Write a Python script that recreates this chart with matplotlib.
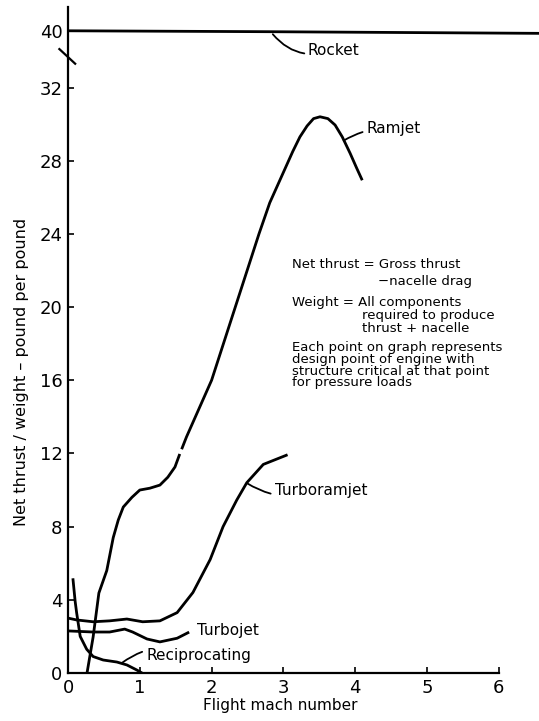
import matplotlib.pyplot as plt
import numpy as np

# values (flight mach number vs thrust/weight)
rocket_mach = [0.0, 2.8, 6.56]
rocket_tw = [40.0, 39.95, 39.86]

ramjet_mach_low = [0.265, 0.35, 0.43, 0.54, 0.63, 0.70, 0.77, 0.89, 1.0, 1.14, 1.28, 1.39, 1.49, 1.55]
ramjet_tw_low = [0.0, 1.97, 4.37, 5.6, 7.4, 8.36, 9.07, 9.6, 10.0, 10.1, 10.27, 10.7, 11.26, 11.9]
ramjet_mach_high = [1.59, 1.65, 2.0, 2.33, 2.66, 2.81, 2.97, 3.13, 3.23, 3.33, 3.42, 3.51, 3.62,
                    3.72, 3.82, 3.93, 4.02, 4.09]
ramjet_tw_high = [12.3, 12.9, 16.0, 20.0, 24.0, 25.7, 27.1, 28.5, 29.3, 29.9, 30.3, 30.4, 30.3,
                  29.95, 29.3, 28.4, 27.6, 27.0]

turboramjet_mach = [0.0, 0.12, 0.35, 0.58, 0.82, 1.04, 1.28, 1.52, 1.74, 1.98, 2.16, 2.35, 2.49, 2.72, 3.04]
turboramjet_tw = [3.0, 2.9, 2.8, 2.85, 2.95, 2.8, 2.85, 3.3, 4.4, 6.2, 8.0, 9.45, 10.4, 11.4, 11.9]

turbojet_mach = [0.0, 0.35, 0.58, 0.79, 0.9, 1.1, 1.28, 1.52, 1.67]
turbojet_tw = [2.3, 2.24, 2.24, 2.4, 2.24, 1.86, 1.7, 1.9, 2.2]

recip_mach = [0.07, 0.1, 0.12, 0.17, 0.26, 0.35, 0.49, 0.68, 0.82, 0.96, 1.03]
recip_tw = [5.1, 3.9, 3.3, 2.0, 1.3, 0.9, 0.71, 0.6, 0.44, 0.16, 0.0]

y_ticks = [0, 4, 8, 12, 16, 20, 24, 28, 32, 40]
x_ticks = [0, 1, 2, 3, 4, 5, 6]

# upper part of the y axis is broken: 40 sits where 35.1 would be
break_shift = 4.9


def disp(v):
    v = np.asarray(v, dtype=float)
    return np.where(v > 34, v - break_shift, v)


plt.rcParams['font.family'] = 'DejaVu Sans'
fig = plt.figure(figsize=(5.39, 7.21), dpi=100)
ax = fig.add_axes([68 / 539, 48 / 721, 1 - 68 / 539, 666 / 721])

lw = 2.0
ax.plot(rocket_mach, disp(rocket_tw), color='black', lw=lw)
ax.plot(ramjet_mach_low, ramjet_tw_low, color='black', lw=lw)
ax.plot(ramjet_mach_high, ramjet_tw_high, color='black', lw=lw)
ax.plot(turboramjet_mach, turboramjet_tw, color='black', lw=lw)
ax.plot(turbojet_mach, turbojet_tw, color='black', lw=lw)
ax.plot(recip_mach, recip_tw, color='black', lw=lw)

ax.set_xlim(0, 6.56)
ax.set_ylim(0, 36.4)
for s in ['top', 'right']:
    ax.spines[s].set_visible(False)
ax.spines['left'].set_linewidth(1.6)
ax.spines['bottom'].set_linewidth(1.6)
ax.spines['bottom'].set_bounds(0, 6)

ax.set_yticks(disp(y_ticks))
ax.set_yticklabels([str(t) for t in y_ticks])
ax.set_xticks(x_ticks)
ax.set_xticklabels([str(t) for t in x_ticks])
ax.tick_params(direction='in', length=4, width=1.2, labelsize=13, pad=4)

# axis break mark
ax.plot([-0.12, 0.1], [34.1, 33.3], color='black', lw=1.6, clip_on=False)

ax.text(2.95, -1.75, 'Flight mach number', ha='center', va='center', fontsize=11)
fig.text(22 / 539, 1 - 372 / 721, 'Net thrust / weight \u2013 pound per pound',
         rotation=90, ha='center', va='center', fontsize=11.5)

lead = dict(arrowstyle='-', color='black', lw=1.3)
ax.annotate('Rocket', xy=(2.84, 34.97), xytext=(3.33, 34.04), fontsize=11, va='center',
            arrowprops=dict(lead, connectionstyle='arc3,rad=-0.35', shrinkA=0, shrinkB=1))
ax.annotate('Ramjet', xy=(3.84, 29.1), xytext=(4.16, 29.78), fontsize=11, va='center',
            arrowprops=dict(lead, connectionstyle='arc3,rad=0.15', shrinkA=1, shrinkB=0))
ax.annotate('Turboramjet', xy=(2.49, 10.38), xytext=(2.88, 10.0), fontsize=11, va='center',
            arrowprops=dict(lead, connectionstyle='arc3,rad=-0.25', shrinkA=1, shrinkB=0))
ax.annotate('Reciprocating', xy=(0.75, 0.55), xytext=(1.09, 0.93), fontsize=11, va='center',
            arrowprops=dict(lead, connectionstyle='arc3,rad=0.3', shrinkA=1, shrinkB=0))
ax.text(1.8, 2.35, 'Turbojet', fontsize=11, va='center')

note_fs = 9.5
ax.text(3.12, 22.3, 'Net thrust = Gross thrust', fontsize=note_fs, va='center')
ax.text(4.32, 21.37, '\u2212nacelle drag', fontsize=note_fs, va='center')
ax.text(3.12, 20.27, 'Weight = All components', fontsize=note_fs, va='center')
ax.text(4.09, 19.56, 'required to produce', fontsize=note_fs, va='center')
ax.text(4.09, 18.85, 'thrust + nacelle', fontsize=note_fs, va='center')
ax.text(3.12, 17.81, 'Each point on graph represents', fontsize=note_fs, va='center')
ax.text(3.12, 17.16, 'design point of engine with', fontsize=note_fs, va='center')
ax.text(3.12, 16.5, 'structure critical at that point', fontsize=note_fs, va='center')
ax.text(3.12, 15.85, 'for pressure loads', fontsize=note_fs, va='center')

fig.savefig('out.png', dpi=100)
